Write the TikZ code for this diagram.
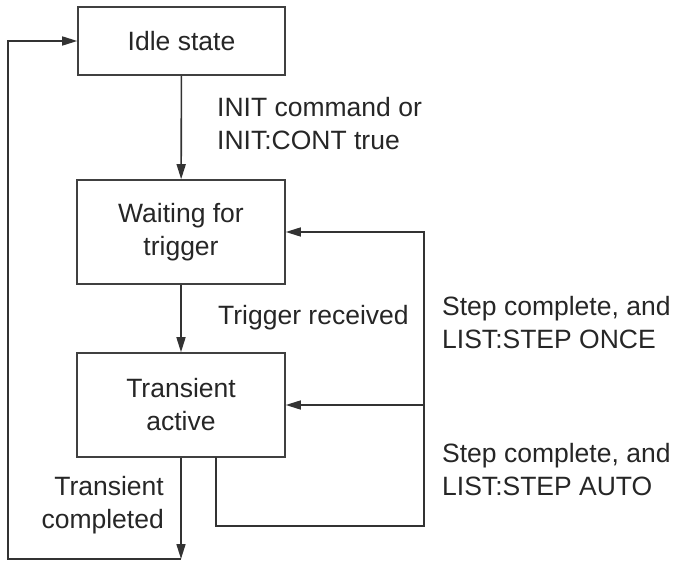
\documentclass[tikz,border=0pt]{standalone}
\usepackage{fontspec}
\setmainfont{Liberation Sans}
\usetikzlibrary{arrows.meta}
\begin{document}
\begin{tikzpicture}[x=1pt,y=-1pt,
  every node/.style={font=\fontsize{26.5}{33}\selectfont, text=black!85},
  statebox/.style={draw=black!75, line width=1.6pt, align=center, inner sep=0pt},
  conn/.style={draw=black!80, line width=1.6pt},
  arr/.style={conn, -{Triangle[length=15pt,width=9pt]}},
  lbl/.style={align=left, inner sep=0pt}]
\useasboundingbox (0,0) rectangle (677,561);
\node[statebox, minimum width=207pt, minimum height=68pt] (idle) at (181.5,41) {Idle state};
\node[statebox, minimum width=208pt, minimum height=104pt] (waiting) at (181,232) {Waiting for\\trigger};
\node[statebox, minimum width=208pt, minimum height=104pt] (transient) at (181,405) {Transient\\active};
\coordinate (bm) at (181,559);
\coordinate (bl) at (8,559);
\coordinate (tb) at (216,457);
\coordinate (rb) at (424,526);
\coordinate (rj) at (424,405);
\draw[arr] (idle) -- (waiting);
\draw[arr] (waiting) -- (transient);
\draw[arr] (transient) -- (bm);
\draw[arr] (bm) -- (bl) |- (idle.west);
\draw[arr] (tb) |- (rb) |- (waiting.east);
\draw[arr] (rj) -- (transient.east);
\node[lbl, anchor=west] (l1) at (217,124) {INIT command or\\INIT:CONT true};
\node[lbl, anchor=west] (l2) at (218,318) {Trigger received};
\node[lbl, anchor=west] (l3) at (442,323) {Step complete, and\\LIST:STEP ONCE};
\node[lbl, anchor=west] (l4) at (442,470) {Step complete, and\\LIST:STEP AUTO};
\node[lbl, anchor=east, align=right] (l5) at (164,505) {Transient\\completed};
\end{tikzpicture}
\end{document}
